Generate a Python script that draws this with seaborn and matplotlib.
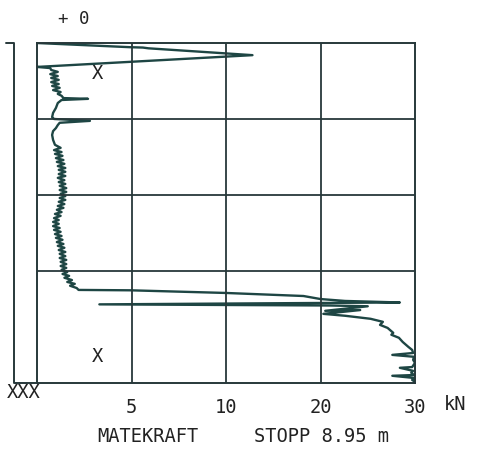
import numpy as np
import pandas as pd
import matplotlib
matplotlib.use("Agg")
import matplotlib.pyplot as plt
import seaborn as sns

# sounding curve: depth (m) and force (kN)
depth = [0.00, 0.11, 0.12, 0.14, 0.32, 0.63, 0.66,
         0.71, 0.76, 0.82, 0.87, 0.92, 0.97, 1.03, 1.08, 1.13, 1.18, 1.24, 1.29,
         1.34, 1.39, 1.45, 1.47, 1.50, 1.58, 1.71, 1.84, 1.95, 2.00, 2.05, 2.10,
         2.16, 2.24, 2.32, 2.42, 2.55, 2.68,
         2.76, 2.82, 2.87, 2.92, 2.97, 3.03, 3.08, 3.13, 3.18, 3.24, 3.29, 3.34,
         3.39, 3.45, 3.50, 3.55, 3.61, 3.66, 3.71, 3.76, 3.82, 3.87, 3.92, 3.97,
         4.03, 4.08, 4.13, 4.18, 4.24, 4.29, 4.34, 4.39, 4.45, 4.50, 4.55, 4.61,
         4.66, 4.71, 4.76, 4.82, 4.87, 4.92, 4.97, 5.03, 5.08, 5.13, 5.18, 5.24,
         5.29, 5.34, 5.39, 5.45, 5.50, 5.55, 5.61, 5.66, 5.71, 5.76, 5.82, 5.87,
         5.92, 5.97, 6.03, 6.08, 6.13, 6.18, 6.24, 6.29, 6.34, 6.39, 6.45, 6.50,
         6.51, 6.58, 6.66, 6.74, 6.79, 6.83, 6.88, 6.91, 6.93, 7.05, 7.03, 7.13,
         7.18, 7.26, 7.34, 7.42, 7.50, 7.63, 7.68, 7.76, 7.87, 8.00, 8.08, 8.16,
         8.21, 8.26, 8.34, 8.42, 8.53, 8.55, 8.63, 8.68, 8.74, 8.76, 8.82, 8.87,
         8.92, 8.95]
force = [0.0, 4.9, 5.6, 5.9, 12.8, 0.0, 0.7,
         0.75, 1.1, 0.7, 1.1, 0.75, 1.15, 0.75, 1.15, 0.8, 1.2, 0.85, 1.25,
         1.1, 1.3, 1.4, 2.7, 1.3, 1.1, 1.0, 0.85, 0.8, 0.9, 2.8, 1.2,
         1.1, 1.0, 0.85, 0.8, 0.85, 0.95,
         1.25, 0.9, 1.3, 0.95, 1.35, 1.0, 1.4, 1.05, 1.45, 1.1, 1.5, 1.15,
         1.5, 1.15, 1.5, 1.1, 1.45, 1.15, 1.5, 1.2, 1.55, 1.2, 1.55, 1.25,
         1.5, 1.2, 1.5, 1.15, 1.45, 1.1, 1.4, 1.05, 1.3, 0.95, 1.25, 0.9,
         1.15, 0.85, 1.15, 0.85, 1.2, 0.9, 1.25, 0.95, 1.3, 1.0, 1.35, 1.05,
         1.4, 1.1, 1.45, 1.15, 1.5, 1.2, 1.5, 1.2, 1.55, 1.25, 1.55, 1.25,
         1.55, 1.3, 1.6, 1.35, 1.7, 1.45, 1.85, 1.6, 2.0, 1.75, 2.1, 2.2,
         4.95, 10.0, 18.2, 20.0, 22.6, 28.4, 3.3, 21.0, 25.0, 20.5, 24.2, 20.3,
         22.6, 25.3, 26.6, 26.3, 27.1, 27.7, 27.5, 28.3, 28.7, 29.3, 29.7, 29.8,
         27.6, 29.9, 29.8, 30.0, 29.7, 28.4, 29.8, 29.6, 29.9, 27.6, 30.0, 29.7,
         30.0, 29.9]

x_ticks = [5, 10, 20, 30]
x_breaks = [0, 5, 10, 20, 30]
y_grid = [2, 4, 6]
stop_depth = 8.95

df = pd.DataFrame({"depth": depth, "force": force})

sns.set_style("white")
plt.rcParams["font.family"] = ["DejaVu Sans Mono"]

ink = "#27383a"
curve_col = "#1e4644"
txt = "#222222"

fig = plt.figure(figsize=(4.79, 4.54), dpi=100)
ax = fig.add_axes([37 / 479, 1 - 383 / 454, 378 / 479, 340 / 454])

# piecewise force axis: 0-5, 5-10, 10-20, 20-30 get equal widths
pos = list(range(len(x_breaks)))
ax.set_xscale("function", functions=(lambda v: np.interp(v, x_breaks, pos),
                                     lambda p: np.interp(p, pos, x_breaks)))

sns.lineplot(data=df, x="force", y="depth", sort=False, estimator=None,
             color=curve_col, linewidth=1.7, ax=ax)

ax.set_xlim(0, 30)
ax.set_ylim(stop_depth, 0)

for xv in x_ticks[:-1]:
    ax.axvline(xv, color=ink, linewidth=1.3)
for yv in y_grid:
    ax.axhline(yv, color=ink, linewidth=1.3)

for s in ax.spines.values():
    s.set_color(ink)
    s.set_linewidth(1.4)

ax.set_xticks(x_ticks)
ax.set_xticklabels([str(t) for t in x_ticks])
ax.set_yticks([])
ax.tick_params(axis="x", length=0, pad=11, labelsize=13.5, colors=txt)
ax.set_xlabel("")
ax.set_ylabel("")

# left bracket
ax.plot([-0.082, -0.061, -0.061, 0], [1, 1, 0, 0], transform=ax.transAxes,
        color=ink, linewidth=1.4, clip_on=False)

ax.text(3.2, 0.79, "X", fontsize=13.5, ha="center", va="center", color=txt)
ax.text(3.2, 8.26, "X", fontsize=13.5, ha="center", va="center", color=txt)

fig.text(24 / 479, 1 - 393 / 454, "XXX", fontsize=13.5, ha="center", va="center", color=txt)
fig.text(455 / 479, 1 - 405 / 454, "kN", fontsize=13.5, ha="center", va="center", color=txt)
fig.text(74 / 479, 1 - 19 / 454, "+ 0", fontsize=12.5, ha="center", va="center", color=txt)
fig.text(148 / 479, 1 - 437 / 454, "MATEKRAFT", fontsize=13.5, ha="center", va="center", color=txt)
fig.text(321 / 479, 1 - 437 / 454, "STOPP 8.95 m", fontsize=13.5, ha="center", va="center", color=txt)

fig.savefig("out.png", dpi=100)
